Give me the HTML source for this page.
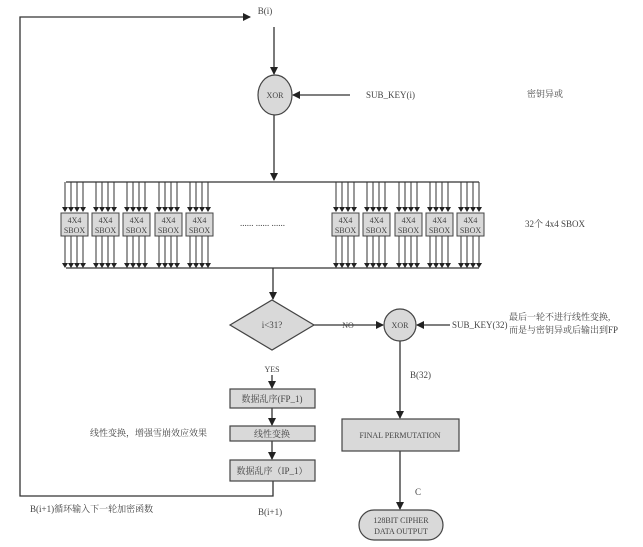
<!DOCTYPE html>
<html><head><meta charset="utf-8"><style>
body{margin:0;background:#fff;}
svg text{font-family:"Liberation Serif","Noto Serif CJK SC",serif;fill:#444;}
</style></head><body>
<svg width="643" height="542" viewBox="0 0 643 542" xmlns="http://www.w3.org/2000/svg">
<defs><marker id="a" markerWidth="8" markerHeight="8" refX="7" refY="4" orient="auto" markerUnits="userSpaceOnUse"><path d="M0,0 L8,4 L0,8 z" fill="#222"/></marker>
<marker id="s" markerWidth="6" markerHeight="6" refX="5" refY="3" orient="auto" markerUnits="userSpaceOnUse"><path d="M0,0 L6,3 L0,6 z" fill="#222"/></marker></defs>
<g stroke="#333" stroke-width="1.3" fill="none">
<!-- loop -->
<polyline points="273,481 273,496 20,496 20,17 250,17" marker-end="url(#a)"/>
<line x1="274" y1="27" x2="274" y2="74" marker-end="url(#a)"/>
<line x1="350" y1="95" x2="293" y2="95" marker-end="url(#a)"/>
<line x1="274" y1="115" x2="274" y2="180" marker-end="url(#a)"/>
<line x1="66" y1="182" x2="479" y2="182"/>
<line x1="66" y1="268" x2="479" y2="268"/>
<line x1="273" y1="268" x2="273" y2="299" marker-end="url(#a)"/>
<line x1="313" y1="325" x2="383" y2="325" marker-end="url(#a)"/>
<line x1="450" y1="325" x2="417" y2="325" marker-end="url(#a)"/>
<line x1="400" y1="341" x2="400" y2="418" marker-end="url(#a)"/>
<line x1="400" y1="451" x2="400" y2="509" marker-end="url(#a)"/>
<line x1="272" y1="375" x2="272" y2="388" marker-end="url(#a)"/>
<line x1="272" y1="408" x2="272" y2="425" marker-end="url(#a)"/>
<line x1="272" y1="441" x2="272" y2="459" marker-end="url(#a)"/>
</g>
<g id="sb"></g>
<g stroke="#333" stroke-width="1" fill="none">
<script>/* none */</script>
</g>
<g fill="#d9d9d9" stroke="#444" stroke-width="1.2">
<ellipse cx="275" cy="95" rx="17" ry="20"/>
<polygon points="230,325 272,300 314,325 272,350"/>
<circle cx="400" cy="325" r="16"/>
<rect x="230" y="389" width="85" height="19"/>
<rect x="230" y="426" width="85" height="15"/>
<rect x="230" y="460" width="85" height="21"/>
<rect x="342" y="419" width="117" height="32"/>
<rect x="359" y="510" width="84" height="30" rx="15"/>
</g>
<g stroke="#333" stroke-width="1" fill="none">
<path id="bx" d=""/>
</g>
<!-- SBOXes -->
<g font-size="9">
<g id="boxes"></g>
</g>
<g font-size="9" text-anchor="middle">
<text x="265" y="14">B(i)</text>
<text x="275" y="98" font-size="8">XOR</text>
<text x="272" y="328" font-size="9">i&lt;31?</text>
<text x="400" y="328" font-size="8">XOR</text>
<text x="348" y="328" font-size="8">NO</text>
<text x="272" y="372" font-size="8">YES</text>
<text x="272" y="402">数据乱序(FP_1)</text>
<text x="272" y="437">线性变换</text>
<text x="272" y="474">数据乱序（IP_1）</text>
<text x="400" y="438" font-size="8">FINAL PERMUTATION</text>
<text x="401" y="523" font-size="8">128BIT CIPHER</text>
<text x="401" y="534" font-size="8">DATA OUTPUT</text>
</g>
<g font-size="9">
<text x="366" y="98">SUB_KEY(i)</text>
<text x="527" y="97">密钥异或</text>
<text x="525" y="227">32个 4x4 SBOX</text>
<text x="452" y="328">SUB_KEY(32)</text>
<text x="509" y="320">最后一轮不进行线性变换,</text>
<text x="509" y="333">而是与密钥异或后输出到FP</text>
<text x="410" y="378">B(32)</text>
<text x="415" y="495">C</text>
<text x="90" y="436">线性变换，增强雪崩效应效果</text>
<text x="30" y="512">B(i+1)循环输入下一轮加密函数</text>
<text x="258" y="515">B(i+1)</text>
<text x="240" y="226" letter-spacing="0">...... ...... ......</text>
</g>
<g stroke="#333" stroke-width="1" fill="#d9d9d9">
<g id="sbox"></g>
</g>
<!-- generated sboxes -->
<g stroke="#333" stroke-width="1">
<line x1="0" y1="0" x2="0" y2="0"/>
</g>
<g>
<!-- left 5 + right 5 -->
<g stroke="#333" stroke-width="1" fill="none">
<path d="M65,182V211M71,182V211M77,182V211M83,182V211M65,236V267M71,236V267M77,236V267M83,236V267
M96,182V211M102,182V211M108,182V211M114,182V211M96,236V267M102,236V267M108,236V267M114,236V267
M127,182V211M133,182V211M139,182V211M145,182V211M127,236V267M133,236V267M139,236V267M145,236V267
M159,182V211M165,182V211M171,182V211M177,182V211M159,236V267M165,236V267M171,236V267M177,236V267
M190,182V211M196,182V211M202,182V211M208,182V211M190,236V267M196,236V267M202,236V267M208,236V267
M336,182V211M342,182V211M348,182V211M354,182V211M336,236V267M342,236V267M348,236V267M354,236V267
M367,182V211M373,182V211M379,182V211M385,182V211M367,236V267M373,236V267M379,236V267M385,236V267
M399,182V211M405,182V211M411,182V211M417,182V211M399,236V267M405,236V267M411,236V267M417,236V267
M430,182V211M436,182V211M442,182V211M448,182V211M430,236V267M436,236V267M442,236V267M448,236V267
M461,182V211M467,182V211M473,182V211M479,182V211M461,236V267M467,236V267M473,236V267M479,236V267"/>
</g>
<g fill="#222">
<path d="M62,207h6l-3,5zM68,207h6l-3,5zM74,207h6l-3,5zM80,207h6l-3,5zM62,263h6l-3,5zM68,263h6l-3,5zM74,263h6l-3,5zM80,263h6l-3,5z"/>
<path transform="translate(31,0)" d="M62,207h6l-3,5zM68,207h6l-3,5zM74,207h6l-3,5zM80,207h6l-3,5zM62,263h6l-3,5zM68,263h6l-3,5zM74,263h6l-3,5zM80,263h6l-3,5z"/>
<path transform="translate(62,0)" d="M62,207h6l-3,5zM68,207h6l-3,5zM74,207h6l-3,5zM80,207h6l-3,5zM62,263h6l-3,5zM68,263h6l-3,5zM74,263h6l-3,5zM80,263h6l-3,5z"/>
<path transform="translate(94,0)" d="M62,207h6l-3,5zM68,207h6l-3,5zM74,207h6l-3,5zM80,207h6l-3,5zM62,263h6l-3,5zM68,263h6l-3,5zM74,263h6l-3,5zM80,263h6l-3,5z"/>
<path transform="translate(125,0)" d="M62,207h6l-3,5zM68,207h6l-3,5zM74,207h6l-3,5zM80,207h6l-3,5zM62,263h6l-3,5zM68,263h6l-3,5zM74,263h6l-3,5zM80,263h6l-3,5z"/>
<path transform="translate(271,0)" d="M62,207h6l-3,5zM68,207h6l-3,5zM74,207h6l-3,5zM80,207h6l-3,5zM62,263h6l-3,5zM68,263h6l-3,5zM74,263h6l-3,5zM80,263h6l-3,5z"/>
<path transform="translate(302,0)" d="M62,207h6l-3,5zM68,207h6l-3,5zM74,207h6l-3,5zM80,207h6l-3,5zM62,263h6l-3,5zM68,263h6l-3,5zM74,263h6l-3,5zM80,263h6l-3,5z"/>
<path transform="translate(334,0)" d="M62,207h6l-3,5zM68,207h6l-3,5zM74,207h6l-3,5zM80,207h6l-3,5zM62,263h6l-3,5zM68,263h6l-3,5zM74,263h6l-3,5zM80,263h6l-3,5z"/>
<path transform="translate(365,0)" d="M62,207h6l-3,5zM68,207h6l-3,5zM74,207h6l-3,5zM80,207h6l-3,5zM62,263h6l-3,5zM68,263h6l-3,5zM74,263h6l-3,5zM80,263h6l-3,5z"/>
<path transform="translate(396,0)" d="M62,207h6l-3,5zM68,207h6l-3,5zM74,207h6l-3,5zM80,207h6l-3,5zM62,263h6l-3,5zM68,263h6l-3,5zM74,263h6l-3,5zM80,263h6l-3,5z"/>
</g>
<g fill="#d9d9d9" stroke="#444" stroke-width="1">
<rect x="61" y="213" width="27" height="23"/><rect x="92" y="213" width="27" height="23"/><rect x="123" y="213" width="27" height="23"/><rect x="155" y="213" width="27" height="23"/><rect x="186" y="213" width="27" height="23"/>
<rect x="332" y="213" width="27" height="23"/><rect x="363" y="213" width="27" height="23"/><rect x="395" y="213" width="27" height="23"/><rect x="426" y="213" width="27" height="23"/><rect x="457" y="213" width="27" height="23"/>
</g>
<g font-size="8" text-anchor="middle">
<text x="74.5" y="223">4X4</text><text x="74.5" y="233">SBOX</text>
<text x="105.5" y="223">4X4</text><text x="105.5" y="233">SBOX</text>
<text x="136.5" y="223">4X4</text><text x="136.5" y="233">SBOX</text>
<text x="168.5" y="223">4X4</text><text x="168.5" y="233">SBOX</text>
<text x="199.5" y="223">4X4</text><text x="199.5" y="233">SBOX</text>
<text x="345.5" y="223">4X4</text><text x="345.5" y="233">SBOX</text>
<text x="376.5" y="223">4X4</text><text x="376.5" y="233">SBOX</text>
<text x="408.5" y="223">4X4</text><text x="408.5" y="233">SBOX</text>
<text x="439.5" y="223">4X4</text><text x="439.5" y="233">SBOX</text>
<text x="470.5" y="223">4X4</text><text x="470.5" y="233">SBOX</text>
</g>
</g>
</svg>
</body></html>
